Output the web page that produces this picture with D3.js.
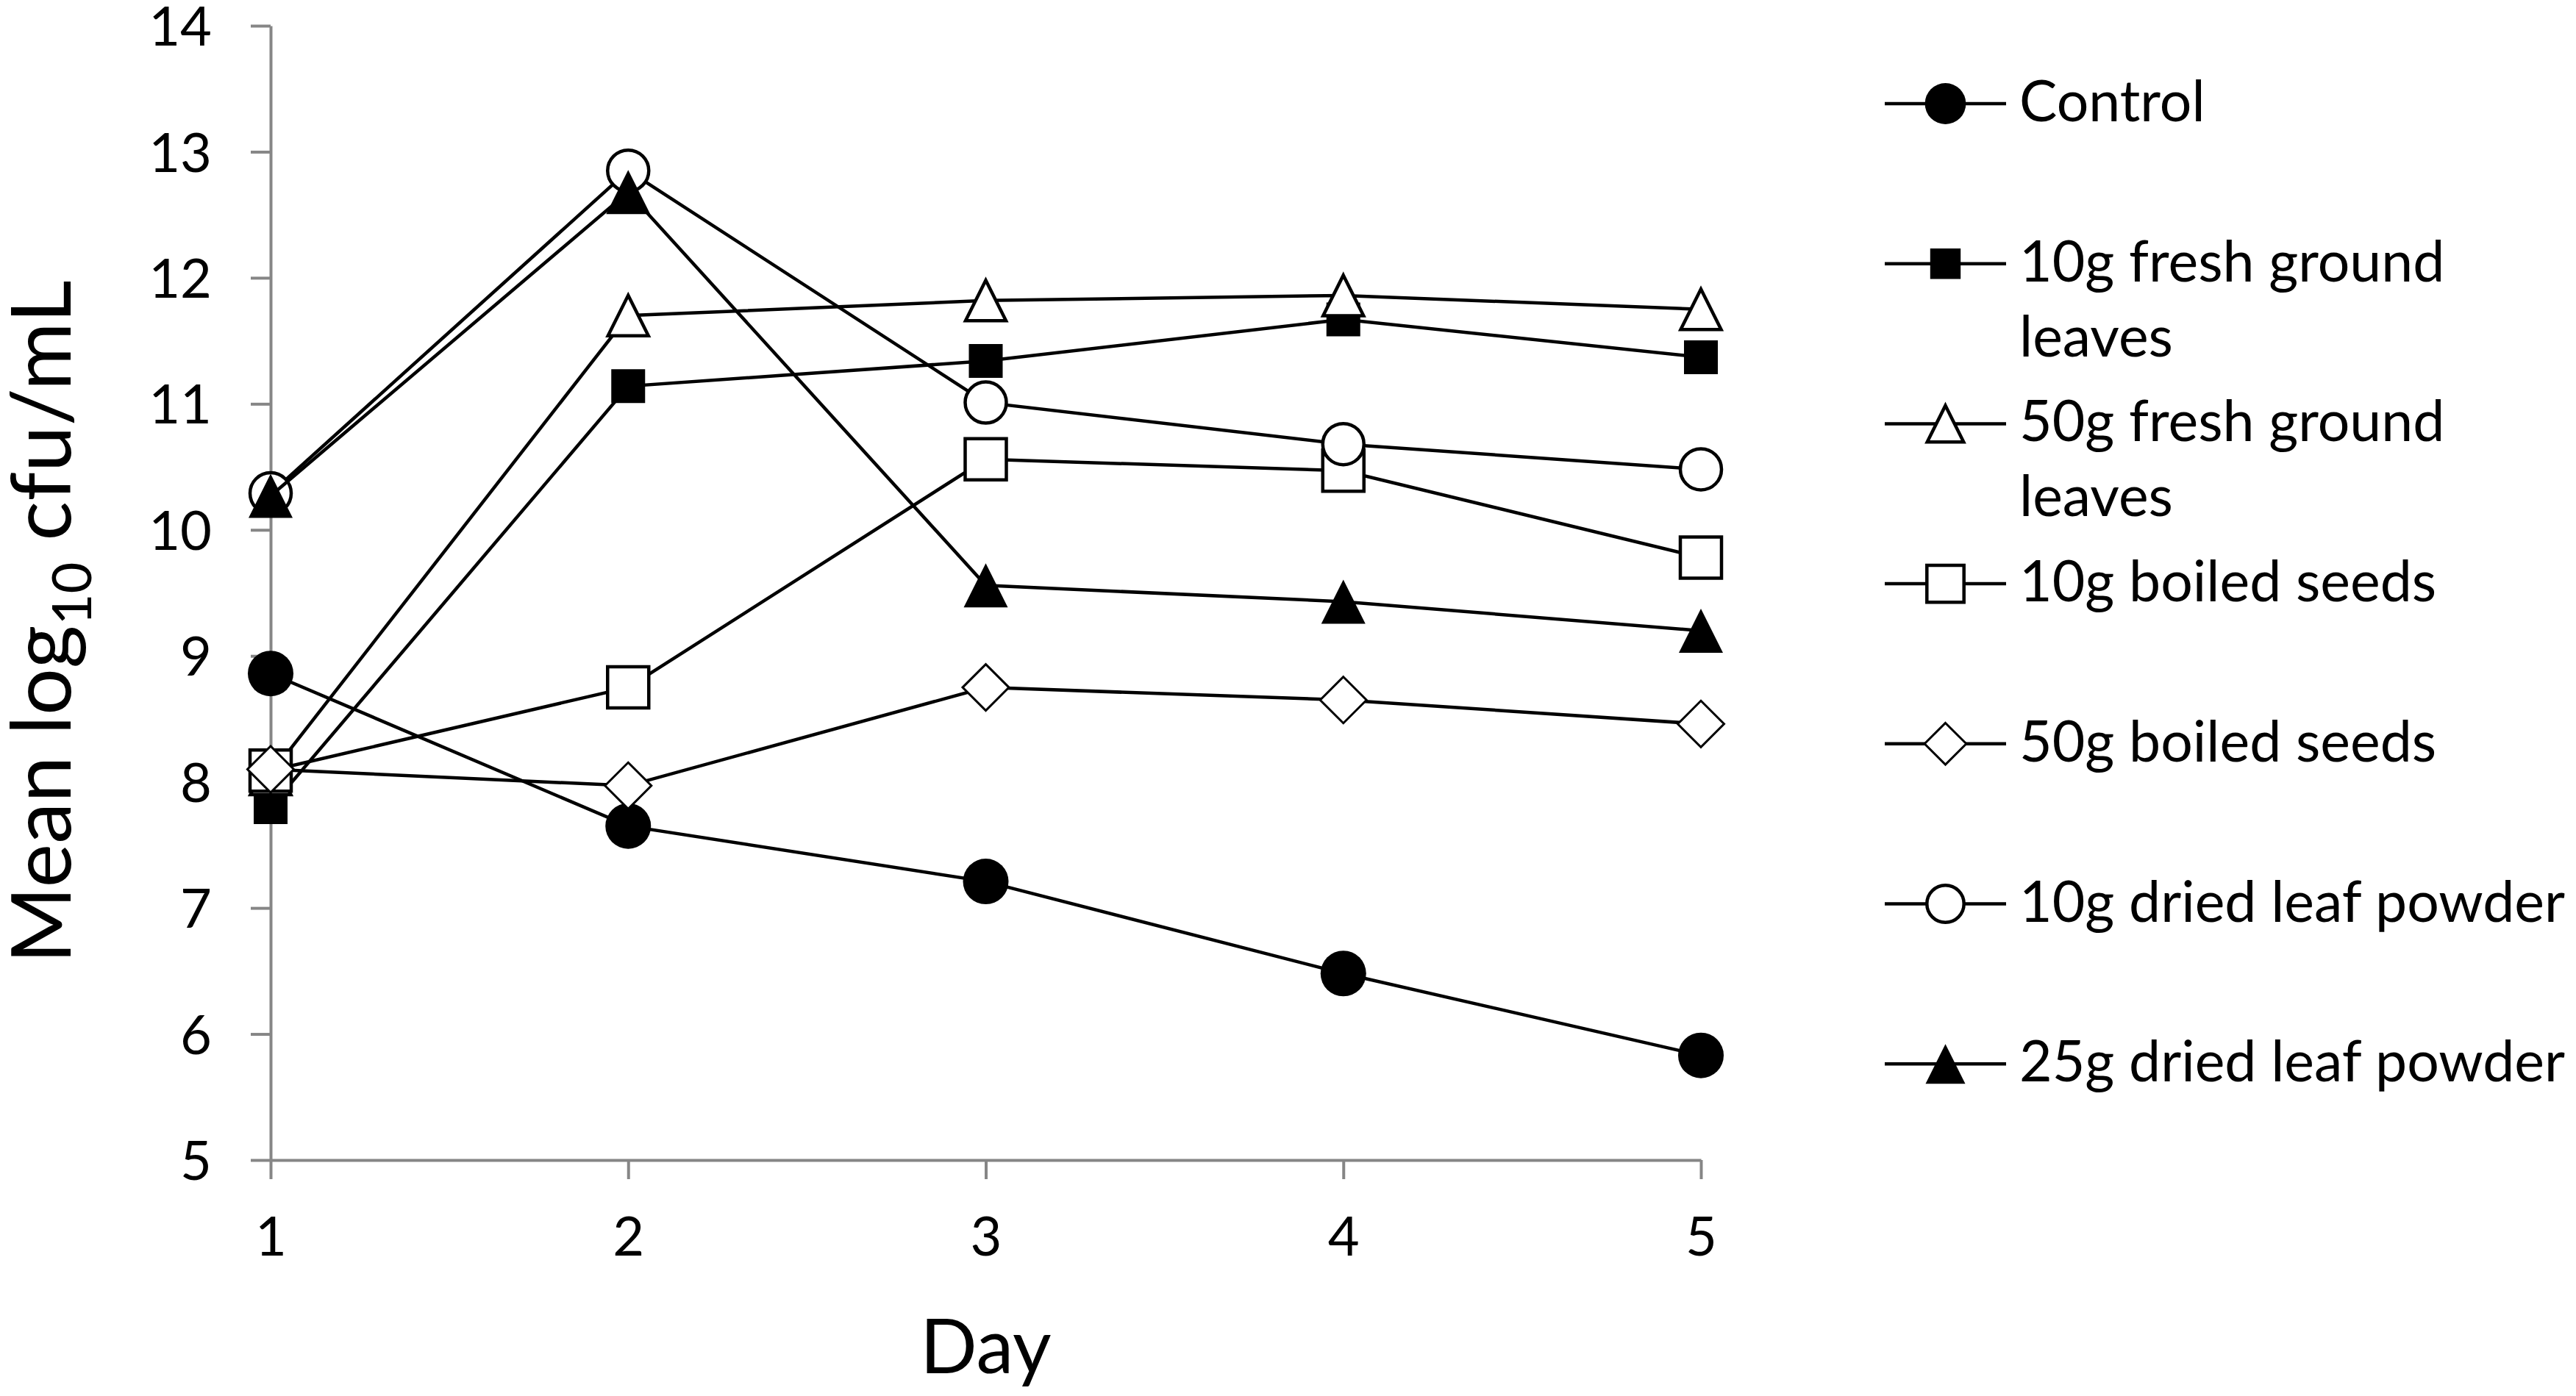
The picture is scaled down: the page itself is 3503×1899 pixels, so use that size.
<!DOCTYPE html>
<html>
<head>
<meta charset="utf-8">
<script src="https://cdn.jsdelivr.net/npm/d3@7"></script>
<style>
  body { margin: 0; background: #ffffff; }
  svg { display: block; font-family: Lato, "Open Sans", sans-serif; }
</style>
</head>
<body>
<div id="chart"></div>
<script>
const days = [1, 2, 3, 4, 5];
const yTicks = [5, 6, 7, 8, 9, 10, 11, 12, 13, 14];

const control = [8.86, 7.65, 7.21, 6.48, 5.83];
const fresh10 = [7.80, 11.14, 11.34, 11.67, 11.37];
const fresh50 = [8.06, 11.70, 11.82, 11.86, 11.75];
const boiled10 = [8.09, 8.75, 10.56, 10.47, 9.78];
const boiled50 = [8.10, 7.97, 8.75, 8.65, 8.46];
const dried10 = [10.29, 12.85, 11.01, 10.68, 10.48];
const dried25 = [10.27, 12.68, 9.56, 9.43, 9.20];

const seriesNames = [
  ["Control"],
  ["10g fresh ground", "leaves"],
  ["50g fresh ground", "leaves"],
  ["10g boiled seeds"],
  ["50g boiled seeds"],
  ["10g dried leaf powder"],
  ["25g dried leaf powder"]
];
const seriesValues = [control, fresh10, fresh50, boiled10, boiled50, dried10, dried25];
const seriesShapes = ["circle", "square", "triangle", "square", "diamond", "circle", "triangle"];
const seriesFilled = [true, true, false, false, false, false, true];

const width = 3503;
const height = 1899;
const margin = { top: 35, right: 1190, bottom: 321, left: 368 };

const svg = d3.select("#chart")
  .append("svg")
  .attr("width", width)
  .attr("height", height);

svg.append("rect")
  .attr("width", width)
  .attr("height", height)
  .attr("fill", "#ffffff");

const x = d3.scaleLinear()
  .domain([1, 5])
  .range([margin.left, width - margin.right]);

const y = d3.scaleLinear()
  .domain([5, 14])
  .range([height - margin.bottom, margin.top]);

// marker outline path, centred on 0,0, s = bounding box size
function markerPath(shape, s) {
  const h = s / 2;
  if (shape === "circle") {
    const p = d3.path();
    p.arc(0, 0, h, 0, Math.PI * 2);
    p.closePath();
    return p.toString();
  }
  if (shape === "square") {
    return `M${-h},${-h}H${h}V${h}H${-h}Z`;
  }
  if (shape === "triangle") {
    return `M0,${-h}L${h},${h}H${-h}Z`;
  }
  return `M0,${-h}L${h},0L0,${h}L${-h},0Z`;
}

function markerSize(shape, filled) {
  if (shape === "square") return filled ? 46 : 56;
  if (shape === "diamond") return 63;
  if (shape === "triangle") return filled ? 60 : 55;
  return filled ? 62 : 56;
}

function drawMarker(g, shape, filled, scale) {
  g.append("path")
    .attr("d", markerPath(shape, markerSize(shape, filled) * scale))
    .attr("fill", filled ? "#000000" : "#ffffff")
    .attr("stroke", filled ? "none" : "#000000")
    .attr("stroke-width", shape === "diamond" ? 3 : 4.5)
    .attr("stroke-linejoin", "miter");
}

// axes
const yAxis = svg.append("g")
  .attr("transform", `translate(${x(1)},0)`)
  .call(d3.axisLeft(y).tickValues(yTicks).tickSize(27).tickSizeOuter(0).tickPadding(80 - 27));

const xAxis = svg.append("g")
  .attr("transform", `translate(0,${y(5)})`)
  .call(d3.axisBottom(x).tickValues(days).tickSize(26).tickSizeOuter(0).tickFormat(d3.format("d")));

[yAxis, xAxis].forEach(axis => {
  axis.selectAll("path, line")
    .attr("stroke", "#868686")
    .attr("stroke-width", 4);
  axis.selectAll("text")
    .attr("fill", "#000000")
    .attr("font-size", "74px")
    .attr("font-family", "Lato, sans-serif");
});

yAxis.selectAll("text").attr("dy", "0.36em");
xAxis.selectAll("text").attr("y", 130).attr("dy", 0);

// axis titles
svg.append("text")
  .attr("x", (x(1) + x(5)) / 2)
  .attr("y", 1868)
  .attr("text-anchor", "middle")
  .attr("font-size", "102px")
  .attr("fill", "#000000")
  .text("Day");

const yTitle = svg.append("text")
  .attr("transform", `translate(96, 846) rotate(-90)`)
  .attr("text-anchor", "middle")
  .attr("font-size", "113px")
  .attr("fill", "#000000");

yTitle.append("tspan").text("Mean log");
yTitle.append("tspan").attr("font-size", "74px").attr("dy", 28).text("10");
yTitle.append("tspan").attr("dy", -28).text(" cfu/mL");

// series, drawn in order so later series sit on top
const line = d3.line()
  .x((d, i) => x(days[i]))
  .y(d => y(d));

seriesValues.forEach((values, s) => {
  const g = svg.append("g");

  g.append("path")
    .attr("d", line(values))
    .attr("fill", "none")
    .attr("stroke", "#000000")
    .attr("stroke-width", 4.5);

  values.forEach((v, i) => {
    const m = g.append("g")
      .attr("transform", `translate(${x(days[i])},${y(v)})`);
    drawMarker(m, seriesShapes[s], seriesFilled[s], 1);
  });
});

// legend
const legendTop = 141;
const legendStep = 217.7;
const legendLineX0 = 2563;
const legendLineX1 = 2728;
const legendTextX = 2746;

seriesNames.forEach((lines, s) => {
  const ly = legendTop + s * legendStep;
  const g = svg.append("g");

  g.append("line")
    .attr("x1", legendLineX0)
    .attr("x2", legendLineX1)
    .attr("y1", ly)
    .attr("y2", ly)
    .attr("stroke", "#000000")
    .attr("stroke-width", 4.5);

  const m = g.append("g")
    .attr("transform", `translate(${(legendLineX0 + legendLineX1) / 2},${ly})`);
  drawMarker(m, seriesShapes[s], seriesFilled[s], 0.9);

  lines.forEach((t, k) => {
    g.append("text")
      .attr("x", legendTextX)
      .attr("y", ly + 24 + k * 102)
      .attr("font-size", "77px")
      .attr("fill", "#000000")
      .text(t);
  });
});
</script>
</body>
</html>
